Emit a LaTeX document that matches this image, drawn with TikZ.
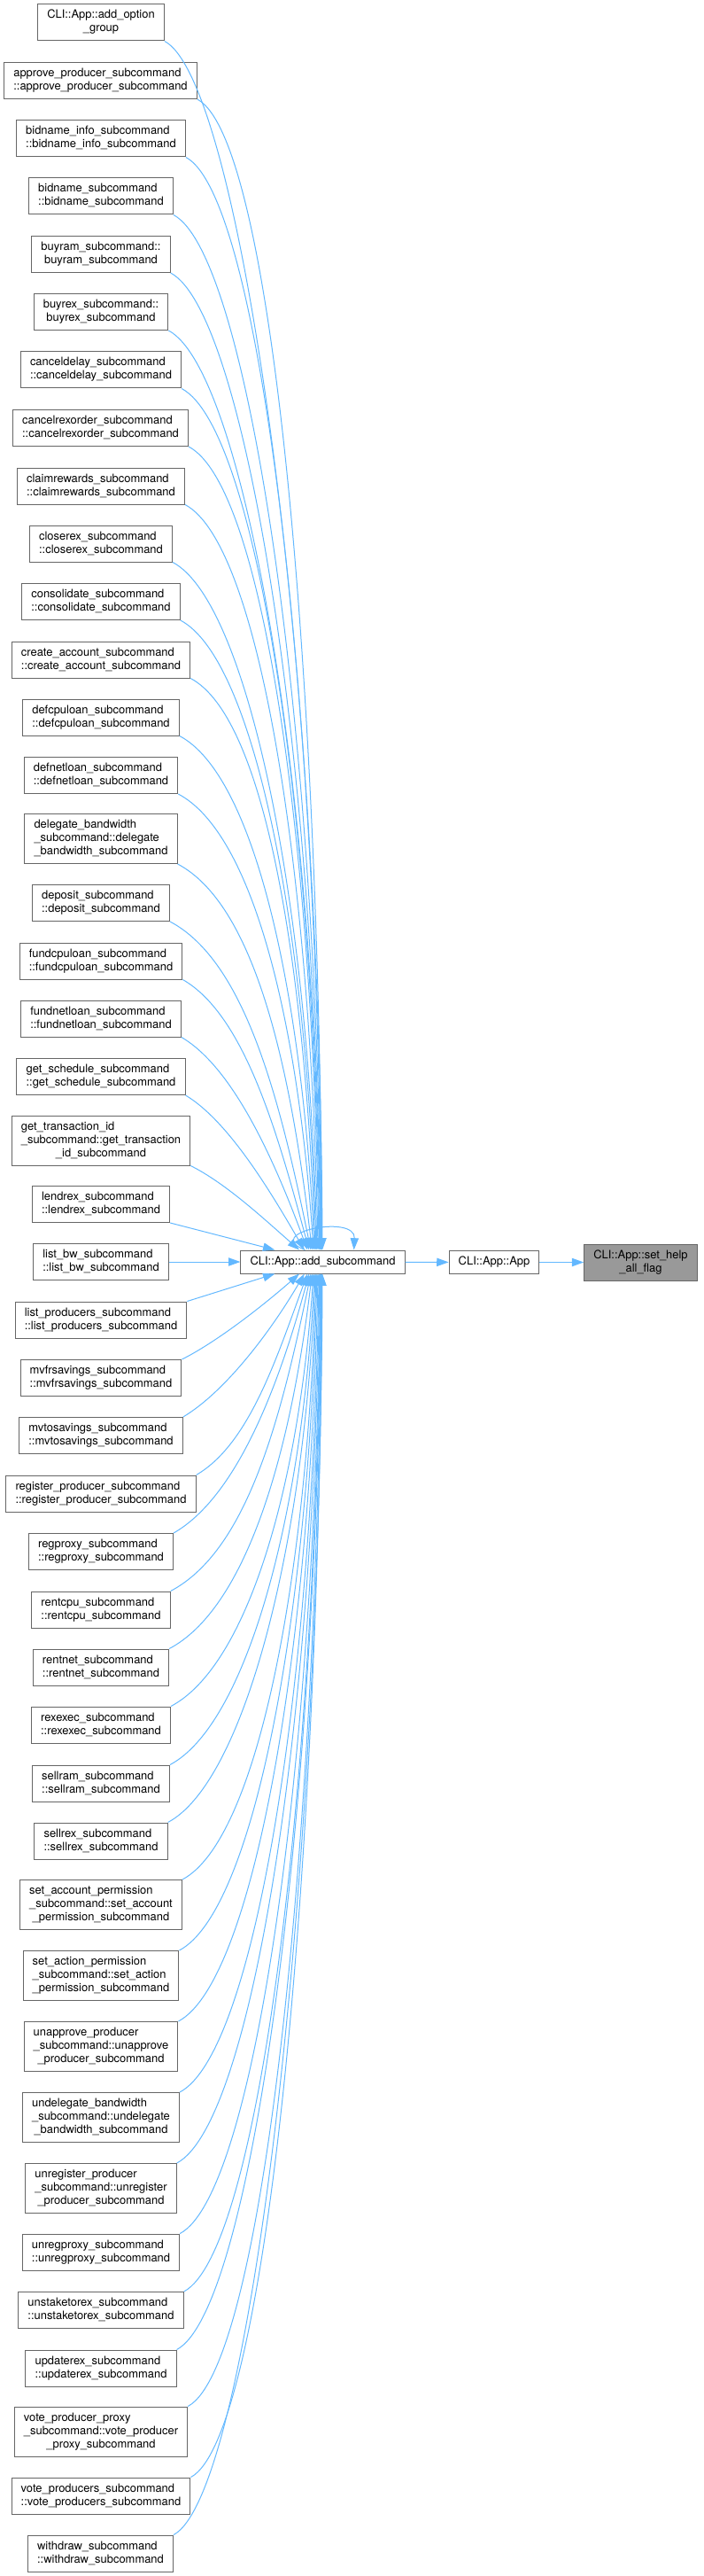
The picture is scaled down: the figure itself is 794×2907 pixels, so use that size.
\documentclass[tikz,border=0pt]{standalone}
\usepackage{fontspec}
\setmainfont{TeX Gyre Heros}
\usetikzlibrary{arrows.meta}
\definecolor{edgeblue}{HTML}{63B8FF}
\definecolor{boxframe}{HTML}{666666}
\definecolor{focusgray}{HTML}{999999}
% 多行函数名：前几行左对齐，最后一行居中
\newcommand{\fnlines}[2]{\begin{tabular}{@{}l@{}}#1\\\multicolumn{1}{@{}c@{}}{#2}\end{tabular}}

\begin{document}
\begin{tikzpicture}[x=0.75pt, y=-0.75pt,
    fn/.style={draw=boxframe, line width=0.75pt, fill=white, inner xsep=8pt, inner ysep=4.125pt,
        minimum height=19.5pt, font=\fontsize{9.7}{11.25}\selectfont},
    focus/.style={fn, fill=focusgray},
    edge/.style={draw=edgeblue, line width=0.75pt, -{Triangle[length=10pt,width=7pt]}}]
    \useasboundingbox (0,0) rectangle (794,2907);

    % 右侧三个节点
    \node[fn] (sub) at (364.5,1424) {CLI::App::add\_subcommand};
    \node[fn] (app) at (558,1424.5) {CLI::App::App};
    \node[focus] (help) at (723.5,1424.5) {\fnlines{CLI::App::set\_help}{\_all\_flag}};

    % 左列：上半部分
    \node[fn] (opt) at (114,25.5) {\fnlines{CLI::App::add\_option}{\_group}};
    \node[fn] (apr) at (113.5,91) {\fnlines{approve\_producer\_subcommand}{::approve\_producer\_subcommand}};
    \node[fn] (bni) at (114,156.5) {\fnlines{bidname\_info\_subcommand}{::bidname\_info\_subcommand}};
    \node[fn] (bn) at (114,221.5) {\fnlines{bidname\_subcommand}{::bidname\_subcommand}};
    \node[fn] (bram) at (114,287) {\fnlines{buyram\_subcommand::}{buyram\_subcommand}};
    \node[fn] (brex) at (114,352) {\fnlines{buyrex\_subcommand::}{buyrex\_subcommand}};
    \node[fn] (cdel) at (114,417.5) {\fnlines{canceldelay\_subcommand}{::canceldelay\_subcommand}};
    \node[fn] (crex) at (113.5,483) {\fnlines{cancelrexorder\_subcommand}{::cancelrexorder\_subcommand}};
    \node[fn] (claim) at (114,548.5) {\fnlines{claimrewards\_subcommand}{::claimrewards\_subcommand}};
    \node[fn] (close) at (114,613.5) {\fnlines{closerex\_subcommand}{::closerex\_subcommand}};
    \node[fn] (cons) at (114,679) {\fnlines{consolidate\_subcommand}{::consolidate\_subcommand}};
    \node[fn] (cacc) at (114,744.5) {\fnlines{create\_account\_subcommand}{::create\_account\_subcommand}};
    \node[fn] (defcpu) at (114,809.5) {\fnlines{defcpuloan\_subcommand}{::defcpuloan\_subcommand}};
    \node[fn] (defnet) at (114,875) {\fnlines{defnetloan\_subcommand}{::defnetloan\_subcommand}};
    \node[fn] (dbw) at (114,946.5) {\fnlines{delegate\_bandwidth\\\_subcommand::delegate}{\_bandwidth\_subcommand}};
    \node[fn] (dep) at (114,1019) {\fnlines{deposit\_subcommand}{::deposit\_subcommand}};
    \node[fn] (fcpu) at (114,1084.5) {\fnlines{fundcpuloan\_subcommand}{::fundcpuloan\_subcommand}};
    \node[fn] (fnet) at (114,1149.5) {\fnlines{fundnetloan\_subcommand}{::fundnetloan\_subcommand}};
    \node[fn] (gsch) at (114,1215) {\fnlines{get\_schedule\_subcommand}{::get\_schedule\_subcommand}};
    \node[fn] (gtid) at (114,1287) {\fnlines{get\_transaction\_id\\\_subcommand::get\_transaction}{\_id\_subcommand}};
    \node[fn] (lrex) at (114,1359) {\fnlines{lendrex\_subcommand}{::lendrex\_subcommand}};
    \node[fn] (lbw) at (114,1424) {\fnlines{list\_bw\_subcommand}{::list\_bw\_subcommand}};

    % 左列：下半部分
    \node[fn] (lprod) at (114,1489.5) {\fnlines{list\_producers\_subcommand}{::list\_producers\_subcommand}};
    \node[fn] (mvfr) at (114,1555) {\fnlines{mvfrsavings\_subcommand}{::mvfrsavings\_subcommand}};
    \node[fn] (mvto) at (114,1620) {\fnlines{mvtosavings\_subcommand}{::mvtosavings\_subcommand}};
    \node[fn] (regp) at (114,1685.5) {\fnlines{register\_producer\_subcommand}{::register\_producer\_subcommand}};
    \node[fn] (rprx) at (114,1751) {\fnlines{regproxy\_subcommand}{::regproxy\_subcommand}};
    \node[fn] (rcpu) at (114,1816.5) {\fnlines{rentcpu\_subcommand}{::rentcpu\_subcommand}};
    \node[fn] (rnet) at (114,1881.5) {\fnlines{rentnet\_subcommand}{::rentnet\_subcommand}};
    \node[fn] (rexe) at (114,1946.5) {\fnlines{rexexec\_subcommand}{::rexexec\_subcommand}};
    \node[fn] (sram) at (114,2012.5) {\fnlines{sellram\_subcommand}{::sellram\_subcommand}};
    \node[fn] (srex) at (114,2077.5) {\fnlines{sellrex\_subcommand}{::sellrex\_subcommand}};
    \node[fn] (sacc) at (114,2149.5) {\fnlines{set\_account\_permission\\\_subcommand::set\_account}{\_permission\_subcommand}};
    \node[fn] (sact) at (114,2229.5) {\fnlines{set\_action\_permission\\\_subcommand::set\_action}{\_permission\_subcommand}};
    \node[fn] (unap) at (114,2309.5) {\fnlines{unapprove\_producer\\\_subcommand::unapprove}{\_producer\_subcommand}};
    \node[fn] (undel) at (114,2389.5) {\fnlines{undelegate\_bandwidth\\\_subcommand::undelegate}{\_bandwidth\_subcommand}};
    \node[fn] (unreg) at (114,2469.5) {\fnlines{unregister\_producer\\\_subcommand::unregister}{\_producer\_subcommand}};
    \node[fn] (unrp) at (114,2541.5) {\fnlines{unregproxy\_subcommand}{::unregproxy\_subcommand}};
    \node[fn] (unst) at (114,2607) {\fnlines{unstaketorex\_subcommand}{::unstaketorex\_subcommand}};
    \node[fn] (updr) at (114,2672.5) {\fnlines{updaterex\_subcommand}{::updaterex\_subcommand}};
    \node[fn] (vpp) at (114,2744) {\fnlines{vote\_producer\_proxy\\\_subcommand::vote\_producer}{\_proxy\_subcommand}};
    \node[fn] (vps) at (114,2816.5) {\fnlines{vote\_producers\_subcommand}{::vote\_producers\_subcommand}};
    \node[fn] (wd) at (113.5,2881.5) {\fnlines{withdraw\_subcommand}{::withdraw\_subcommand}};

    % 上半部分的调用边
    \draw[edge] (opt.south east) .. controls +(85,45) and +(-3,-680) .. (sub.92);
    \draw[edge] (apr.south east) .. controls +(85,45) and +(-3,-650) .. (sub.94);
    \draw[edge] (bni.south east) .. controls +(85,45) and +(-4,-615) .. (sub.96);
    \draw[edge] (bn.south east) .. controls +(85,45) and +(-4,-585) .. (sub.98);
    \draw[edge] (bram.south east) .. controls +(85,45) and +(-5,-550) .. (sub.100);
    \draw[edge] (brex.south east) .. controls +(85,45) and +(-5,-520) .. (sub.102);
    \draw[edge] (cdel.south east) .. controls +(85,45) and +(-6,-485) .. (sub.105);
    \draw[edge] (crex.south east) .. controls +(85,45) and +(-7,-455) .. (sub.108);
    \draw[edge] (claim.south east) .. controls +(85,45) and +(-8,-420) .. (sub.112);
    \draw[edge] (close.south east) .. controls +(85,45) and +(-9,-390) .. (sub.116);
    \draw[edge] (cons.south east) .. controls +(85,45) and +(-10,-355) .. (sub.119);
    \draw[edge] (cacc.south east) .. controls +(85,45) and +(-12,-320) .. (sub.122);
    \draw[edge] (defcpu.south east) .. controls +(85,45) and +(-14,-290) .. (sub.125);
    \draw[edge] (defnet.south east) .. controls +(85,45) and +(-17,-255) .. (sub.128);
    \draw[edge] (dbw.south east) .. controls +(85,45) and +(-25,-215) .. (sub.132);
    \draw[edge] (dep.south east) .. controls +(85,45) and +(-35,-170) .. (sub.135);
    \draw[edge] (fcpu.south east) .. controls +(70,40) and +(-35,-130) .. (sub.139);
    \draw[edge] (fnet.south east) .. controls +(60,35) and +(-35,-95) .. (sub.142);
    \draw[edge] (gsch.south east) .. controls +(50,30) and +(-35,-60) .. (sub.147);
    \draw[edge] (gtid.south east) .. controls +(40,20) and +(-40,-35) .. (sub.153);
    \draw[edge] (lrex.south east) -- (sub.166);
    \draw[edge] (lbw) -- (sub);

    % 下半部分的调用边
    \draw[edge] (lprod.north east) -- (sub.194);
    \draw[edge] (mvfr.north east) .. controls +(40,-20) and +(-40,35) .. (sub.207);
    \draw[edge] (mvto.north east) .. controls +(50,-30) and +(-35,60) .. (sub.213);
    \draw[edge] (regp.north east) .. controls +(60,-35) and +(-35,95) .. (sub.218);
    \draw[edge] (rprx.north east) .. controls +(70,-40) and +(-35,130) .. (sub.221);
    \draw[edge] (rcpu.north east) .. controls +(85,-45) and +(-35,170) .. (sub.225);
    \draw[edge] (rnet.north east) .. controls +(85,-45) and +(-25,210) .. (sub.228);
    \draw[edge] (rexe.north east) .. controls +(85,-45) and +(-17,245) .. (sub.232);
    \draw[edge] (sram.north east) .. controls +(85,-45) and +(-14,278) .. (sub.235);
    \draw[edge] (srex.north east) .. controls +(85,-45) and +(-12,310) .. (sub.238);
    \draw[edge] (sacc.north east) .. controls +(85,-45) and +(-10,343) .. (sub.241);
    \draw[edge] (sact.north east) .. controls +(85,-45) and +(-9,383) .. (sub.244);
    \draw[edge] (unap.north east) .. controls +(85,-45) and +(-8,423) .. (sub.248);
    \draw[edge] (undel.north east) .. controls +(85,-45) and +(-7,463) .. (sub.252);
    \draw[edge] (unreg.north east) .. controls +(85,-45) and +(-6,503) .. (sub.255);
    \draw[edge] (unrp.north east) .. controls +(85,-45) and +(-5,542) .. (sub.258);
    \draw[edge] (unst.north east) .. controls +(85,-45) and +(-5,575) .. (sub.260);
    \draw[edge] (updr.north east) .. controls +(85,-45) and +(-4,608) .. (sub.262);
    \draw[edge] (vpp.north east) .. controls +(85,-45) and +(-4,640) .. (sub.264);
    \draw[edge] (vps.north east) .. controls +(85,-45) and +(-3,680) .. (sub.266);
    \draw[edge] (wd.north east) .. controls +(85,-45) and +(-3,712) .. (sub.268);

    % 自调用环与右侧的边
    \draw[edge] (sub.146) .. controls +(-50,-19) and +(2,-41) .. (sub.21);
    \draw[edge] (sub) -- (app);
    \draw[edge] (app) -- (help);
\end{tikzpicture}
\end{document}
